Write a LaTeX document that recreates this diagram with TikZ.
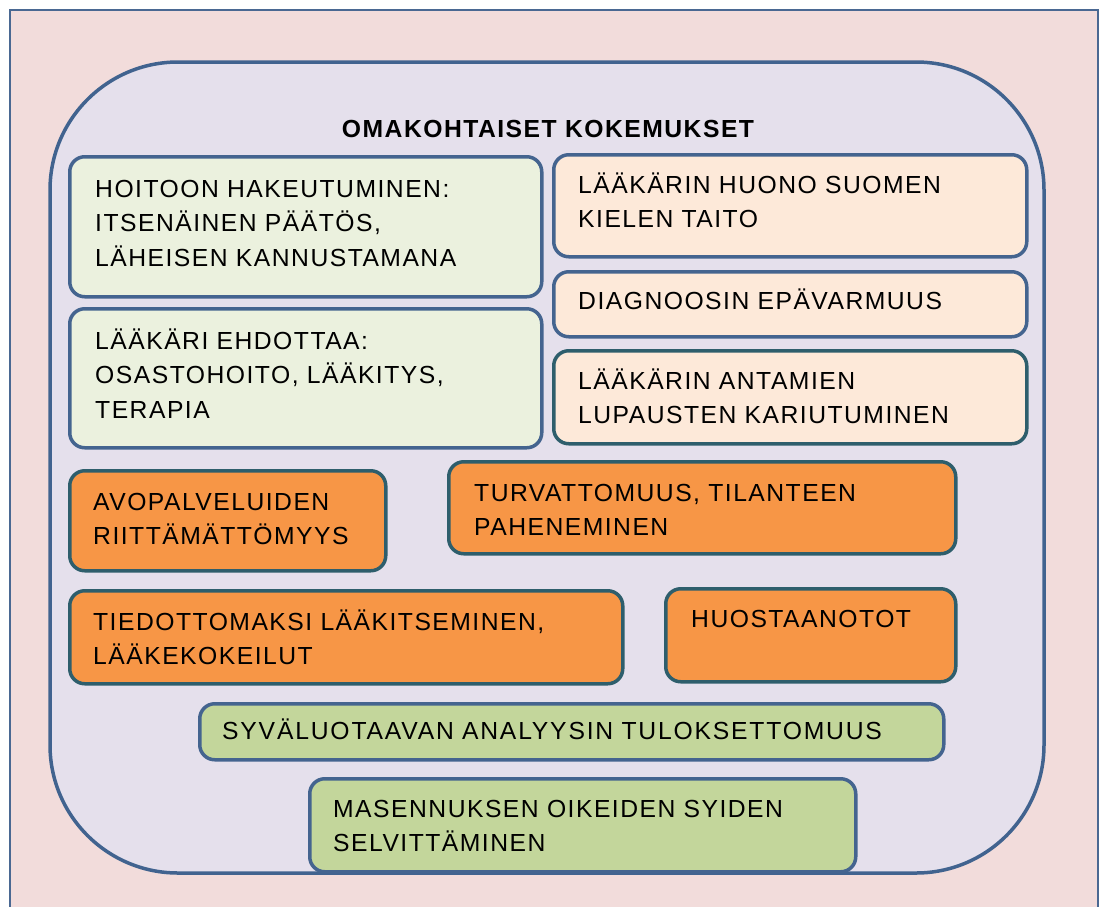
\documentclass[tikz,border=0pt]{standalone}
\usepackage{fontspec}
\setmainfont{Liberation Sans}[LetterSpace=6]
\definecolor{pagefill}{HTML}{F2DCDB}
\definecolor{pageline}{HTML}{4A6892}
\definecolor{groupfill}{HTML}{E5E0EC}
\definecolor{groupline}{HTML}{41638F}
\definecolor{paleGreen}{HTML}{EBF1DE}
\definecolor{peach}{HTML}{FDE9D9}
\definecolor{orangeFill}{HTML}{F79646}
\definecolor{oliveFill}{HTML}{C3D69B}
\definecolor{blueLine}{HTML}{44648F}
\definecolor{tealLine}{HTML}{2E5E6C}
\begin{document}
\begin{tikzpicture}[x=1pt,y=-1pt,
  card/.style={draw, line width=3.5pt, rounded corners=15pt, inner sep=0pt, anchor=north west},
  greenCard/.style={card, fill=paleGreen, draw=blueLine},
  peachCard/.style={card, fill=peach, draw=blueLine},
  orangeCard/.style={card, fill=orangeFill, draw=tealLine},
  oliveCard/.style={card, fill=oliveFill, draw=blueLine},
  lbl/.style={anchor=base west, inner sep=0pt, text width=700pt, align=left,
    font=\fontsize{24.7}{34.8}\selectfont}]
\useasboundingbox (0,0) rectangle (1101,906);
% page background and outer frame
\fill[white] (0,0) rectangle (1101,906);
\draw[fill=pagefill, draw=pageline, line width=2.5pt] (10,10) rectangle (1098,930);
% rounded group frame
\draw[fill=groupfill, draw=groupline, line width=3.5pt, rounded corners=128pt] (50,62) rectangle (1044,873);
\node[anchor=base, inner sep=0pt, font=\fontsize{24.7}{30}\selectfont\bfseries] (title) at (548,137) {OMAKOHTAISET KOKEMUKSET};

% left column
\node[greenCard, minimum width=472pt, minimum height=140pt] (hoito) at (68,155) {};
\node[lbl] (hoitoT) at (95,197) {HOITOON HAKEUTUMINEN:\\ITSENÄINEN PÄÄTÖS,\\LÄHEISEN KANNUSTAMANA};
\node[greenCard, minimum width=472pt, minimum height=139pt] (ehdot) at (68,307) {};
\node[lbl] (ehdotT) at (95,349) {LÄÄKÄRI EHDOTTAA:\\OSASTOHOITO, LÄÄKITYS,\\TERAPIA};

% right column
\node[peachCard, minimum width=473pt, minimum height=102pt] (kieli) at (552,153) {};
\node[lbl] (kieliT) at (578,193) {LÄÄKÄRIN HUONO SUOMEN\\KIELEN TAITO};
\node[peachCard, minimum width=473pt, minimum height=65pt] (diag) at (552,270) {};
\node[lbl] (diagT) at (578,309) {DIAGNOOSIN EPÄVARMUUS};
\node[peachCard, draw=tealLine, minimum width=473pt, minimum height=93pt] (lupa) at (552,349) {};
\node[lbl] (lupaT) at (578,389) {LÄÄKÄRIN ANTAMIEN\\LUPAUSTEN KARIUTUMINEN};

% orange row
\node[orangeCard, minimum width=316pt, minimum height=100pt] (avo) at (68,469) {};
\node[lbl] (avoT) at (93,510) {AVOPALVELUIDEN\\RIITTÄMÄTTÖMYYS};
\node[orangeCard, minimum width=507pt, minimum height=92pt] (turva) at (447,460) {};
\node[lbl] (turvaT) at (474,501) {TURVATTOMUUS, TILANTEEN\\PAHENEMINEN};
\node[orangeCard, minimum width=553pt, minimum height=93pt] (tied) at (68,589) {};
\node[lbl] (tiedT) at (93,630) {TIEDOTTOMAKSI LÄÄKITSEMINEN,\\LÄÄKEKOKEILUT};
\node[orangeCard, minimum width=290pt, minimum height=93pt] (huos) at (664,587) {};
\node[lbl] (huosT) at (691,627) {HUOSTAANOTOT};

% olive row
\node[oliveCard, minimum width=744pt, minimum height=56pt] (syva) at (198,702) {};
\node[lbl, font=\fontsize{24.7}{34.8}\selectfont\addfontfeature{LetterSpace=7.3}] (syvaT) at (222,739) {SYVÄLUOTAAVAN ANALYYSIN TULOKSETTOMUUS};
\node[oliveCard, minimum width=546pt, minimum height=93pt] (syyt) at (308,777) {};
\node[lbl] (syytT) at (333,817) {MASENNUKSEN OIKEIDEN SYIDEN\\SELVITTÄMINEN};
\end{tikzpicture}
\end{document}
